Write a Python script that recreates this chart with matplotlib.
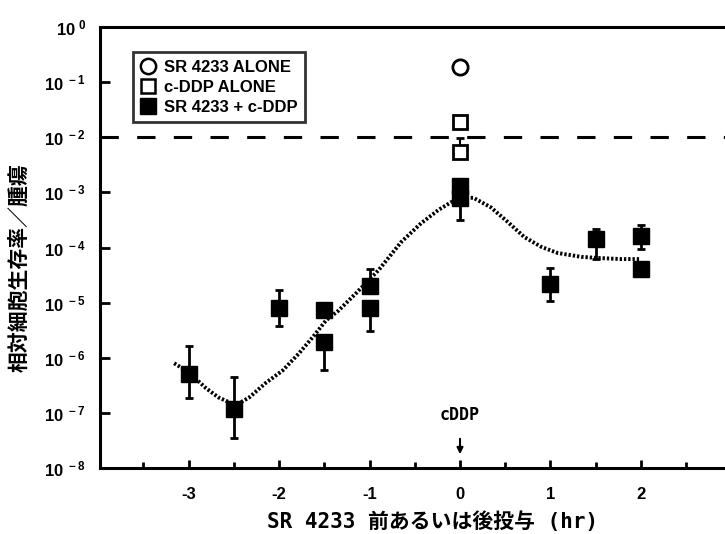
import matplotlib
matplotlib.use('Agg')
import matplotlib.pyplot as plt
from matplotlib.lines import Line2D
from matplotlib.ticker import FixedLocator, FuncFormatter, MultipleLocator
import numpy as np

plt.rcParams['font.family'] = ['Liberation Sans', 'Noto Sans CJK JP', 'DejaVu Sans']
plt.rcParams['mathtext.fontset'] = 'custom'
plt.rcParams['mathtext.rm'] = 'Liberation Sans'
plt.rcParams['mathtext.bf'] = 'Liberation Sans:bold'

# SR 4233 + c-DDP (filled squares)
combo_x = [-3, -2.5, -2, -1.5, -1.5, -1, -1, 0, 0, 1, 1.5, 2, 2]
combo_y = [5.1e-7, 1.2e-7, 8e-6, 7.5e-6, 1.9e-6, 2e-5, 8e-6, 1.3e-3, 8e-4, 2.2e-5, 1.4e-4, 1.6e-4, 4e-5]
combo_lo = [1.9e-7, 3.5e-8, 3.8e-6, 7.5e-6, 6e-7, 2e-5, 3e-6, 1.3e-3, 3.2e-4, 1.07e-5, 6.3e-5, 9.5e-5, 4e-5]
combo_hi = [1.6e-6, 4.5e-7, 1.7e-5, 7.5e-6, 1.9e-6, 4e-5, 8e-6, 1.3e-3, 8e-4, 4.2e-5, 2.2e-4, 2.6e-4, 4e-5]

# SR 4233 alone (open circle)
sr_x = [0]
sr_y = [0.19]

# c-DDP alone (open squares)
cddp_x = [0, 0]
cddp_y = [1.9e-2, 5.4e-3]
cddp_hi = [1.9e-2, 9.5e-3]

# fitted dotted curve (log10 of survival)
curve_x = [-3.16, -3.00, -2.81, -2.67, -2.48, -2.33, -2.15, -1.96, -1.78, -1.63,
           -1.48, -1.34, -1.15, -0.90, -0.65, -0.43, -0.24, -0.10, 0.01, 0.15,
           0.34, 0.53, 0.71, 0.90, 1.08, 1.34, 1.53, 1.78, 2.00]
curve_log = [-6.10, -6.26, -6.55, -6.72, -6.86, -6.72, -6.46, -6.23, -5.92, -5.63,
             -5.32, -5.14, -4.83, -4.41, -3.90, -3.56, -3.32, -3.18, -3.09, -3.10,
             -3.27, -3.54, -3.81, -3.99, -4.10, -4.17, -4.19, -4.21, -4.21]

xticks = [-3, -2, -1, 0, 1, 2]

fig = plt.figure(figsize=(7.25, 5.34), dpi=100)
ax = fig.add_axes([100 / 725, 66 / 534, 635 / 725, 441 / 534])
ax.set_yscale('log')
ax.set_xlim(-3.98, 3.04)
ax.set_ylim(1e-8, 1)

# dashed reference line at 10^-2
ax.axhline(1e-2, color='black', lw=2.2, ls=(0, (6, 6)), zorder=1)

# fitted curve
ax.plot(curve_x, 10 ** np.array(curve_log), color='black', lw=2.8,
        ls=(0, (0.6, 0.5)), zorder=2)

# combination data
yerr = [np.array(combo_y) - np.array(combo_lo), np.array(combo_hi) - np.array(combo_y)]
ax.errorbar(combo_x, combo_y, yerr=yerr, fmt='s', color='black', ms=11,
            elinewidth=2, capsize=3, capthick=2, zorder=4)

# c-DDP alone
ax.errorbar(cddp_x, cddp_y, yerr=[[0, 0], np.array(cddp_hi) - np.array(cddp_y)],
            fmt='s', mfc='white', mec='black', mew=2, ms=10, color='black',
            elinewidth=1.5, capsize=3, zorder=4)

# SR 4233 alone
ax.plot(sr_x, sr_y, 'o', mfc='white', mec='black', mew=2, ms=11, zorder=4)

# axes styling
for side in ['left', 'bottom', 'top']:
    ax.spines[side].set_linewidth(2.2)
ax.spines['right'].set_visible(False)

ax.yaxis.set_major_locator(FixedLocator([10.0 ** k for k in range(-8, 1)]))
ax.yaxis.set_minor_locator(FixedLocator([]))
ax.yaxis.set_major_formatter(FuncFormatter(
    lambda v, p: r'$\mathbf{10^{\ %d}}$' % int(round(np.log10(v)))))
ax.tick_params(axis='y', which='major', direction='in', length=7, width=2,
               pad=10, labelsize=12)

ax.xaxis.set_major_locator(FixedLocator(xticks))
ax.xaxis.set_minor_locator(MultipleLocator(0.5))
ax.set_xticklabels([str(t) for t in xticks], fontweight='bold')
ax.tick_params(axis='x', which='major', direction='in', length=6, width=2,
               pad=14, labelsize=12)
ax.tick_params(axis='x', which='minor', direction='in', length=4, width=2)
ax.tick_params(top=False, right=False, which='both')

# cDDP arrow
ax.text(0, 10 ** -7.04, 'cDDP', ha='center', va='center', fontsize=12,
        fontweight='bold', family=['DejaVu Sans Mono', 'DejaVu Sans'])
ax.annotate('', xy=(0, 10 ** -7.8), xytext=(0, 10 ** -7.42),
            arrowprops=dict(arrowstyle='-|>', color='black', lw=1.5,
                            mutation_scale=9))

# legend
handles = [
    Line2D([], [], ls='none', marker='o', mfc='white', mec='black', mew=1.8, ms=11),
    Line2D([], [], ls='none', marker='s', mfc='white', mec='black', mew=1.8, ms=10),
    Line2D([], [], ls='none', marker='s', mfc='black', mec='black', ms=11),
]
leg = fig.legend(handles, ['SR 4233 ALONE', 'c-DDP ALONE', 'SR 4233 + c-DDP'],
                 loc='upper left', bbox_to_anchor=(133 / 725, 1 - 52 / 534),
                 frameon=True, fancybox=False, edgecolor='black',
                 prop={'weight': 'bold', 'size': 12}, handlelength=0.9,
                 handletextpad=0.5, borderpad=0.45, labelspacing=0.3,
                 borderaxespad=0)
leg.get_frame().set_linewidth(2)

# axis labels
fig.text(19 / 725, 1 - 268 / 534, '相対細胞生存率／腫瘍', rotation=90,
         ha='center', va='center', fontsize=15, fontweight='bold',
         family=['Noto Sans CJK JP', 'DejaVu Sans'])
fig.text(433 / 725, 1 - 522 / 534, 'SR 4233 前あるいは後投与 (hr)',
         ha='center', va='center', fontsize=15, fontweight='bold',
         family=['DejaVu Sans Mono', 'Noto Sans CJK JP'])

fig.savefig('out.png', dpi=100)
